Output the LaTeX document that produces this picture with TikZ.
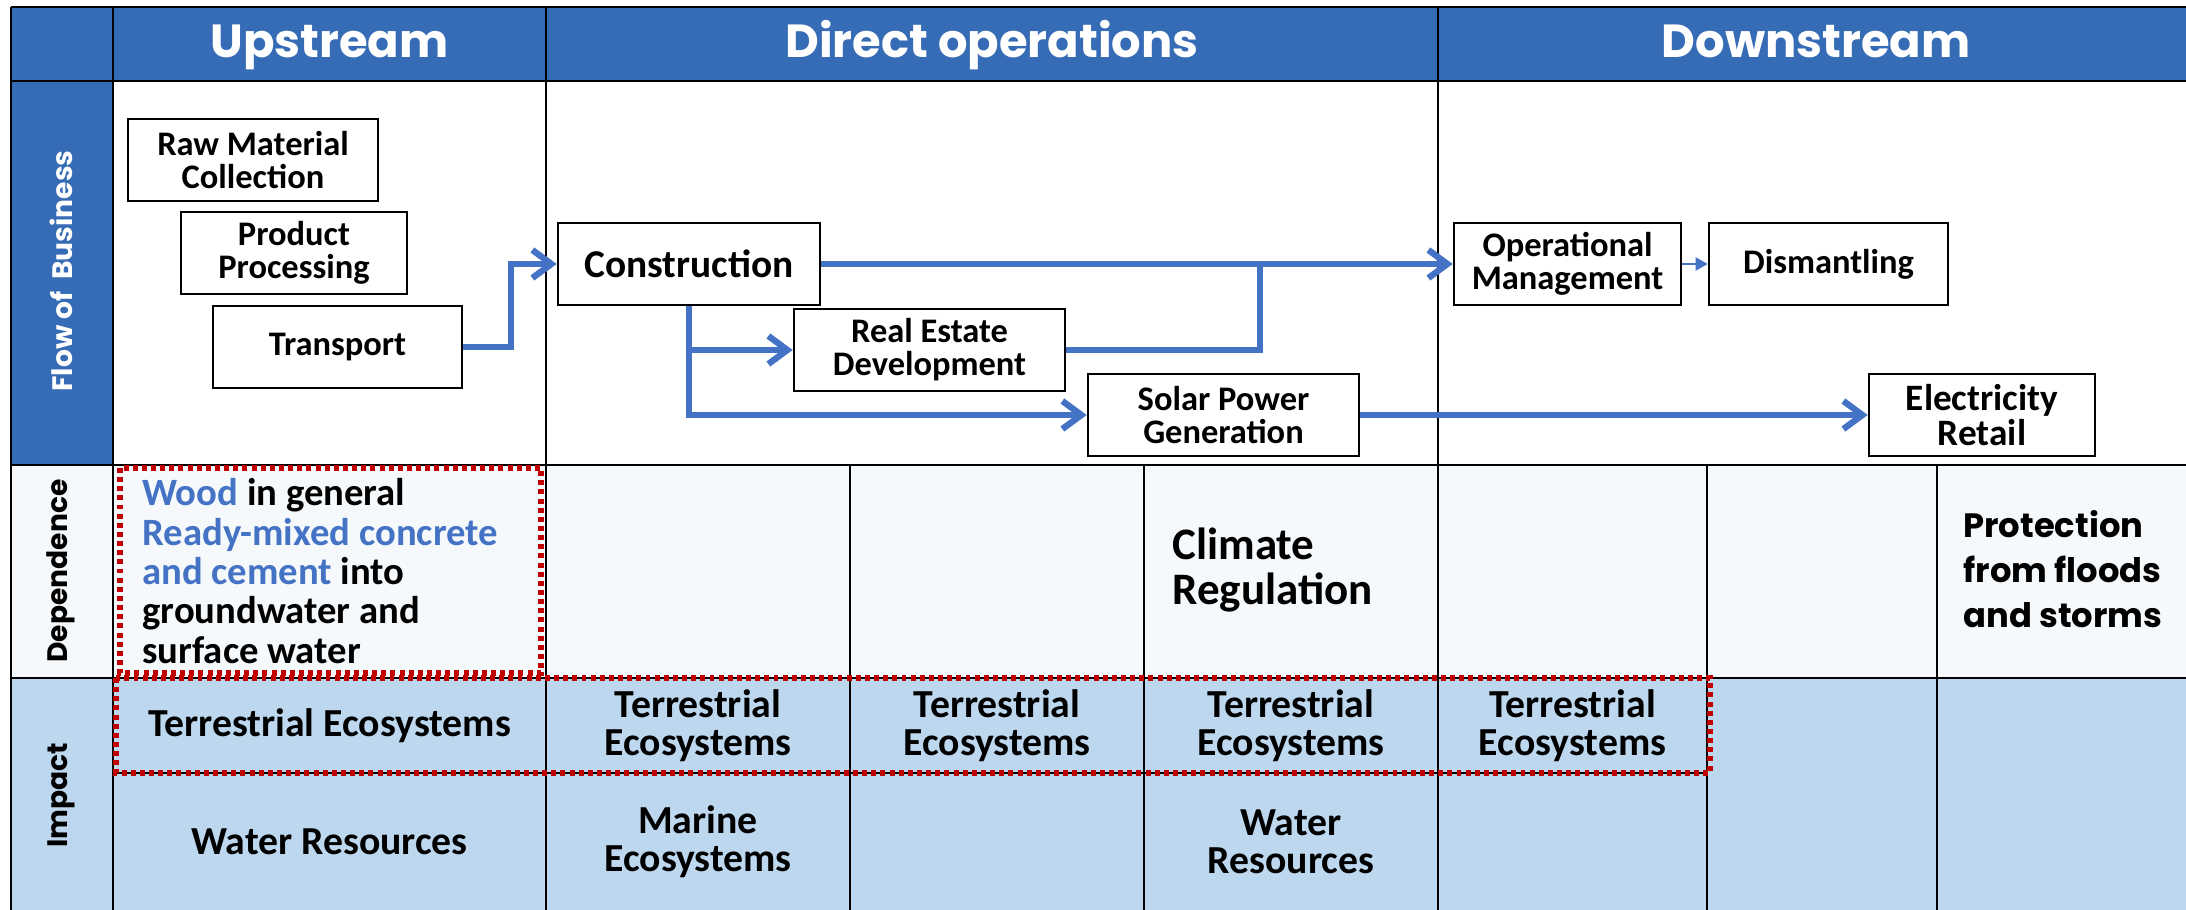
\documentclass[tikz,border=0pt]{standalone}
\usepackage{fontspec}
\setmainfont{Carlito}
\newfontfamily\headfont{Poppins}
\usepackage{tikz}
\usetikzlibrary{arrows.meta, positioning, calc}
\definecolor{hdrblue}{RGB}{54,108,181}
\definecolor{flowblue}{RGB}{68,114,196}
\definecolor{deprow}{RGB}{245,249,252}
\definecolor{improw}{RGB}{189,215,238}
\definecolor{markred}{RGB}{192,0,0}

\begin{document}
\begin{tikzpicture}[x=0.01cm, y=-0.01cm,
  grid/.style={black, line width=0.5pt},
  box/.style={draw, line width=0.7pt, fill=white, align=center, inner sep=0pt,
    minimum height=0.82cm, font=\bfseries\fontsize{9.8}{9.4}\selectfont},
  flow/.style={flowblue, line width=1.8pt, -{Straight Barb[length=1.9mm,width=2.8mm]}},
  flowline/.style={flowblue, line width=1.8pt},
  thinflow/.style={flowblue, line width=0.5pt, -{Triangle[length=1.2mm,width=1.3mm]}},
  header/.style={text=white, anchor=base, font=\headfont\bfseries\fontsize{13.2}{14}\selectfont},
  rowlabel/.style={rotate=90, font=\headfont\bfseries\fontsize{8}{9}\selectfont},
  cell/.style={align=center, font=\bfseries\fontsize{11.3}{10.9}\selectfont},
  redbox/.style={markred, line width=1.5pt, dash pattern=on 1.4pt off 1.2pt}
]
  \useasboundingbox (0,0) rectangle (2186,910);
  \clip (0,0) rectangle (2186,910);

  % Fonds
  \fill[hdrblue] (11,7) rectangle (2200,81);
  \fill[hdrblue] (11,81) rectangle (113,465);
  \fill[deprow] (11,465) rectangle (2200,678);
  \fill[improw] (11,678) rectangle (2200,920);

  % Grille
  \draw[grid] (11,7) -- (2200,7);
  \draw[grid] (11,81) -- (2200,81);
  \draw[grid] (11,465) -- (2200,465);
  \draw[grid] (11,678) -- (2200,678);
  \draw[grid] (113,773) -- (1707,773);
  \foreach \x in {11,113,546,1438}
    \draw[grid] (\x,7) -- (\x,920);
  \foreach \x in {850,1144,1707,1937}
    \draw[grid] (\x,465) -- (\x,920);

  % En-tetes
  \node[header] (up) at (329.5,58) {Upstream};
  \node[header] (direct) at (992,58) {Direct operations};
  \node[header] (down) at (1816,58) {Downstream};

  \node[rowlabel, text=white] (flowlbl) at (61,271) {Flow of\ \ Business};
  \node[rowlabel] (deplbl) at (61,571) {Dependence};
  \node[rowlabel] (implbl) at (61,795) {Impact};

  % Etapes
  \node[box, minimum width=2.50cm] (raw) at (253,160) {Raw Material\\Collection};
  \node[box, minimum width=2.26cm] (proc) at (294,253) {Product\\Processing};
  \node[box, minimum width=2.49cm] (trans) at (337.5,347) {Transport};
  \node[box, minimum width=2.62cm, font=\bfseries\fontsize{11.2}{11}\selectfont] (cons) at (689,264) {Construction};
  \node[box, minimum width=2.71cm] (real) at (929.5,350) {Real Estate\\Development};
  \node[box, minimum width=2.71cm] (solar) at (1223.5,415) {Solar Power\\Generation};
  \node[box, minimum width=2.27cm] (oper) at (1567.5,264) {Operational\\Management};
  \node[box, minimum width=2.39cm] (dism) at (1828.5,264) {Dismantling};
  \node[box, minimum width=2.26cm, font=\bfseries\fontsize{10.6}{10}\selectfont] (elec) at (1982,415) {Electricity\\Retail};

  % Fleches
  \draw[flow] (trans.east) -- ++(48,0) |- (cons.west);
  \draw[flow] (cons.east) -- (oper.west);
  \draw[flow] (cons.south) |- (solar.west);
  \draw[flow] (cons.south |- real.west) -- (real.west);
  \coordinate (merge) at (1260,264);
  \draw[flowline] (real.east) -| (merge);
  \draw[flow] (solar.east) -- (elec.west);
  \draw[thinflow] (oper.east) -- (dism.west);

  % Dependance
  \node[anchor=west, align=left, font=\bfseries\fontsize{11}{11.2}\selectfont] (wood) at (130,571)
    {{\color{flowblue}Wood} in general\\
     {\color{flowblue}Ready-mixed concrete}\\
     {\color{flowblue}and cement} into\\
     groundwater and\\
     surface water};
  \node[anchor=west, align=left, font=\bfseries\fontsize{12.8}{13}\selectfont] (clim) at (1160,570) {Climate\\Regulation};
  \node[anchor=west, align=left, font=\headfont\bfseries\fontsize{9.6}{12.8}\selectfont] (prot) at (1951,569)
    {Protection\\from floods\\and storms};

  % Impact
  \node[cell] (terr1) at (329.5,726) {Terrestrial Ecosystems};
  \node[cell] (terr2) at (698,726) {Terrestrial\\Ecosystems};
  \node[cell] (terr3) at (997,726) {Terrestrial\\Ecosystems};
  \node[cell] (terr4) at (1291,726) {Terrestrial\\Ecosystems};
  \node[cell] (terr5) at (1572.5,726) {Terrestrial\\Ecosystems};
  \node[cell] (water1) at (329.5,842) {Water Resources};
  \node[cell] (marine) at (698,842) {Marine\\Ecosystems};
  \node[cell] (water2) at (1291,842) {Water\\Resources};

  % Reperes
  \draw[redbox] (120,468) rectangle (541,673);
  \draw[redbox] (116,678) rectangle (1710,773);

\end{tikzpicture}
\end{document}
